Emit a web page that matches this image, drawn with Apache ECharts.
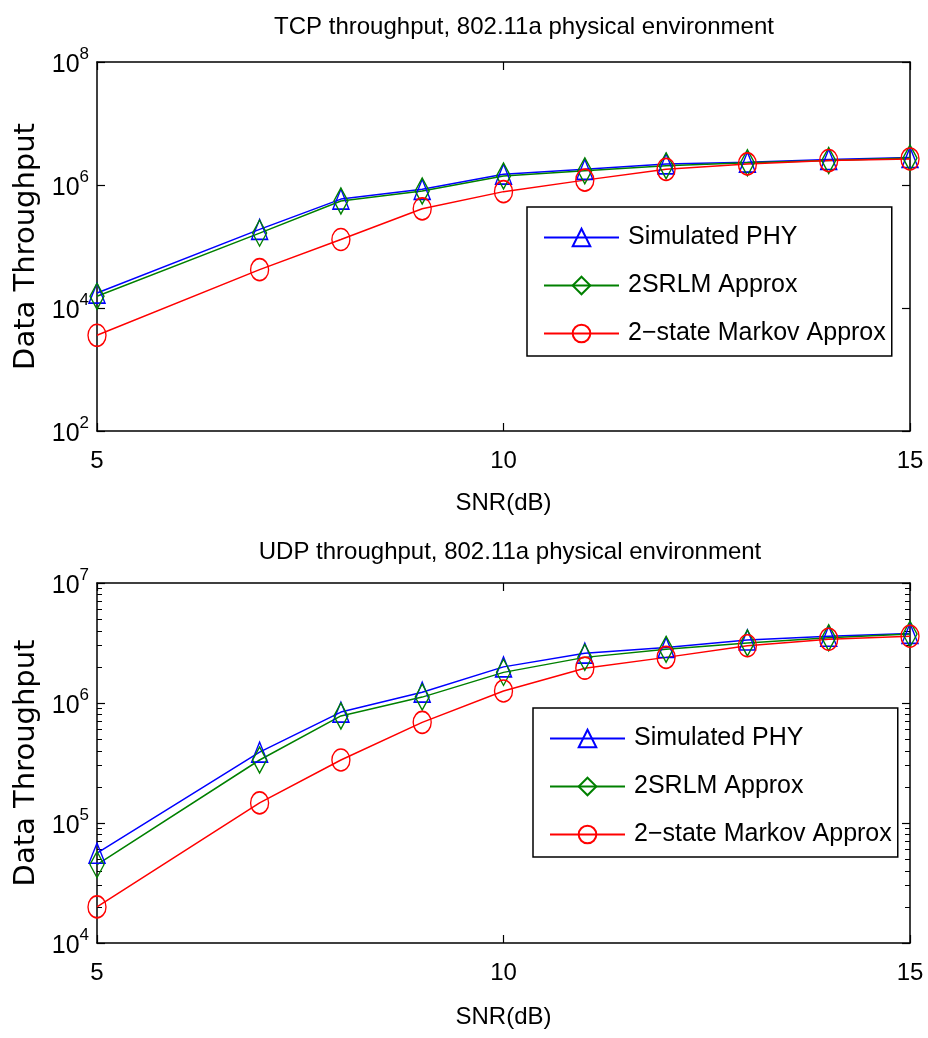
<!DOCTYPE html>
<html>
<head>
<meta charset="utf-8">
<script src="https://cdn.jsdelivr.net/npm/echarts@6/dist/echarts.min.js"></script>
<style>
  html, body { margin: 0; padding: 0; background: #fff; }
  #main { width: 928px; height: 1038px; }
</style>
</head>
<body>
<div id="main"></div>
<script>
  // SNR 轴上的采样点
  var snr = [5, 7, 8, 9, 10, 11, 12, 13, 14, 15];

  // TCP throughput
  var tcpSim    = [1.75e4, 1.9e5, 5.9e5, 8.5e5, 1.5e6, 1.8e6, 2.2e6, 2.35e6, 2.6e6, 2.8e6];
  var tcpSrlm   = [1.55e4, 1.65e5, 5.5e5, 8.0e5, 1.4e6, 1.7e6, 2.05e6, 2.3e6, 2.5e6, 2.75e6];
  var tcpMarkov = [3.6e3, 4.2e4, 1.3e5, 4.1e5, 7.8e5, 1.2e6, 1.8e6, 2.2e6, 2.5e6, 2.65e6];

  // UDP throughput
  var udpSim    = [5.6e4, 3.9e5, 8.4e5, 1.23e6, 2.0e6, 2.6e6, 2.9e6, 3.35e6, 3.6e6, 3.8e6];
  var udpSrlm   = [4.5e4, 3.35e5, 7.8e5, 1.12e6, 1.8e6, 2.4e6, 2.8e6, 3.16e6, 3.5e6, 3.75e6];
  var udpMarkov = [2.0e4, 1.47e5, 3.35e5, 6.9e5, 1.26e6, 1.95e6, 2.4e6, 3.0e6, 3.4e6, 3.6e6];

  var names = ['Simulated PHY', '2SRLM Approx', '2-state Markov Approx'];
  var legendNames = ['Simulated PHY', '2SRLM Approx', '2\u2212state Markov Approx'];

  var FONT = "'Liberation Sans', Arial, sans-serif";

  function pairs(arr) {
    return snr.map(function (x, i) { return [x, arr[i]]; });
  }

  function powLabel(value) {
    return '{b|10}{s|' + Math.round(Math.log10(value)) + '}';
  }

  var styles = [
    { color: '#0000ff', symbol: 'triangle', size: [16, 20] },
    { color: '#008000', symbol: 'diamond', size: [14, 26] },
    { color: '#ff0000', symbol: 'circle', size: [18, 22] }
  ];

  function makeSeries(name, data, idx, axisX, axisY) {
    var s = styles[idx];
    return {
      name: name,
      type: 'line',
      xAxisIndex: axisX,
      yAxisIndex: axisY,
      data: pairs(data),
      symbol: s.symbol,
      symbolSize: s.size,
      showAllSymbol: true,
      lineStyle: { color: s.color, width: 1.5 },
      itemStyle: { color: 'rgba(0,0,0,0)', borderColor: s.color, borderWidth: 1.5 },
      emphasis: { disabled: true },
      animation: false
    };
  }

  function xAxes(grid, pos, showLabel, nameGap) {
    return {
      gridIndex: grid,
      type: 'value',
      position: pos,
      min: 5,
      max: 15,
      interval: 5,
      name: showLabel ? 'SNR(dB)' : '',
      nameLocation: 'middle',
      nameGap: nameGap,
      nameTextStyle: { fontFamily: FONT, fontSize: 24, color: '#000' },
      axisLine: { lineStyle: { color: '#000', width: 1.5 } },
      axisTick: { show: true, inside: true, length: 8, lineStyle: { color: '#000', width: 1.2 } },
      axisLabel: { show: showLabel, fontFamily: FONT, fontSize: 24, color: '#000', margin: 18 },
      splitLine: { show: false }
    };
  }

  function yAxes(grid, pos, showLabel, min, max, interval, minor) {
    return {
      gridIndex: grid,
      type: 'log',
      logBase: 10,
      position: pos,
      min: min,
      max: max,
      interval: interval,
      name: showLabel ? 'Data Throughput' : '',
      nameLocation: 'middle',
      nameGap: 52,
      nameTextStyle: { fontFamily: "'DejaVu Sans', sans-serif", fontSize: 29, color: '#000' },
      axisLine: { lineStyle: { color: '#000', width: 1.5 } },
      axisTick: { show: true, inside: true, length: 8, lineStyle: { color: '#000', width: 1.2 } },
      minorTick: { show: minor, splitNumber: 9, length: 5, lineStyle: { color: '#000', width: 1 } },
      axisLabel: {
        show: showLabel,
        margin: 8,
        formatter: powLabel,
        rich: {
          b: { fontFamily: FONT, fontSize: 25, color: '#000', verticalAlign: 'bottom' },
          s: { fontFamily: FONT, fontSize: 17, color: '#000', verticalAlign: 'bottom', padding: [0, 0, 15, 0] }
        }
      },
      splitLine: { show: false },
      minorSplitLine: { show: false }
    };
  }

  function legendAt(left, top) {
    return {
      left: left,
      top: top,
      orient: 'vertical',
      data: names.map(function (n) { return { name: n }; }),
      formatter: function (n) { return legendNames[names.indexOf(n)]; },
      itemWidth: 75,
      itemHeight: 22,
      itemGap: 23,
      padding: [18, 6, 10, 16],
      borderColor: '#000',
      borderWidth: 1.5,
      backgroundColor: '#fff',
      selectedMode: false,
      textStyle: { fontFamily: FONT, fontSize: 25, color: '#000', padding: [0, 0, 0, 4], lineHeight: 25 }
    };
  }

  var chart = echarts.init(document.getElementById('main'), null, { renderer: 'canvas' });

  var option = {
    backgroundColor: '#fff',
    animation: false,
    title: [
      { text: 'TCP throughput, 802.11a physical environment', left: 519, top: 10, textAlign: 'center',
        textStyle: { fontFamily: FONT, fontSize: 24, fontWeight: 'normal', color: '#000' } },
      { text: 'UDP throughput, 802.11a physical environment', left: 505, top: 535, textAlign: 'center',
        textStyle: { fontFamily: FONT, fontSize: 24, fontWeight: 'normal', color: '#000' } }
    ],
    grid: [
      { left: 97, top: 62, width: 813, height: 369 },
      { left: 97, top: 583, width: 813, height: 360 }
    ],
    xAxis: [
      xAxes(0, 'bottom', true, 60),
      xAxes(0, 'top', false, 0),
      xAxes(1, 'bottom', true, 62),
      xAxes(1, 'top', false, 0)
    ],
    yAxis: [
      yAxes(0, 'left', true, 1e2, 1e8, 2, false),
      yAxes(0, 'right', false, 1e2, 1e8, 2, false),
      yAxes(1, 'left', true, 1e4, 1e7, 1, true),
      yAxes(1, 'right', false, 1e4, 1e7, 1, true)
    ],
    legend: [legendAt(527, 207), legendAt(533, 708)],
    series: [
      makeSeries(names[0], tcpSim, 0, 0, 0),
      makeSeries(names[1], tcpSrlm, 1, 0, 0),
      makeSeries(names[2], tcpMarkov, 2, 0, 0),
      makeSeries(names[0], udpSim, 0, 2, 2),
      makeSeries(names[1], udpSrlm, 1, 2, 2),
      makeSeries(names[2], udpMarkov, 2, 2, 2)
    ]
  };

  chart.setOption(option);
</script>
</body>
</html>
